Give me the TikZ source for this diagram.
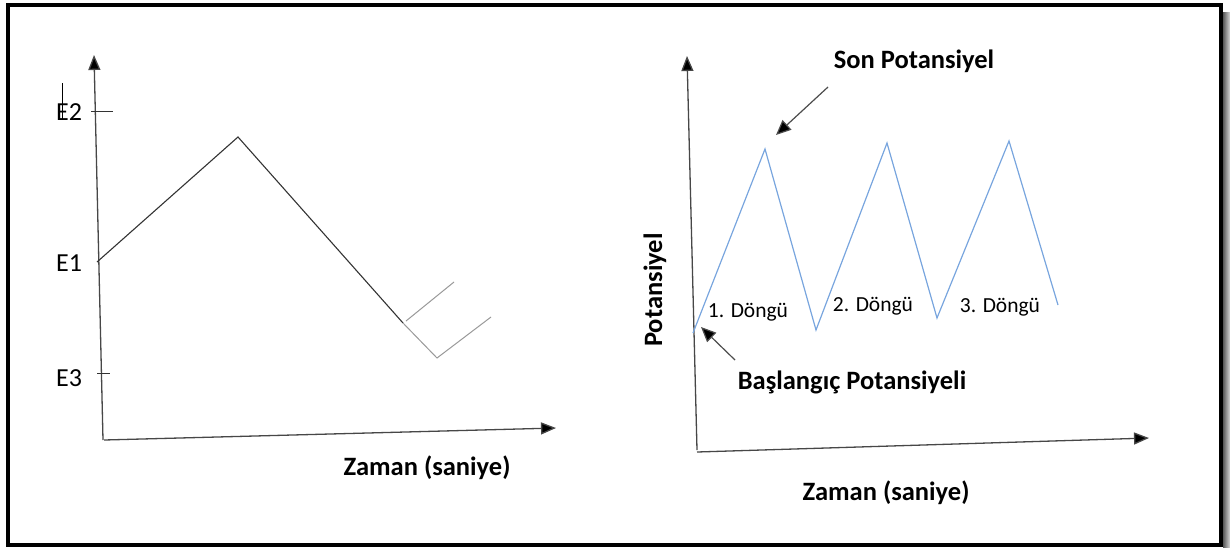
\documentclass[tikz,border=0pt]{standalone}
\usepackage{fontspec}
\setmainfont{Carlito}
\usetikzlibrary{arrows.meta}
\definecolor{cyclecol}{RGB}{120,165,222}
\begin{document}
\begin{tikzpicture}[x=1pt,y=-1pt,
  axis/.style={draw=black!72, line width=1.3pt, -{Triangle[length=15pt,width=12pt,fill=black]}},
  pointer/.style={draw=black!70, line width=1.2pt, -{Triangle[length=15pt,width=13pt,fill=black]}},
  tick/.style={draw=black!80, line width=1pt},
  sweep/.style={draw=black!80, line width=1.1pt},
  ghost/.style={draw=black!40, line width=1pt},
  cycle/.style={draw=cyclecol, line width=1.2pt},
  elabel/.style={font=\fontsize{26}{30}\selectfont, inner sep=0pt},
  title/.style={font=\fontsize{26.5}{30}\selectfont\bfseries, inner sep=0pt},
  loop/.style={font=\fontsize{21.5}{25}\selectfont, inner sep=0pt}]
\useasboundingbox (0,0) rectangle (1230,547);

% outer frame with its drop shadow
\shade[left color=black!65, right color=black!15] (1223,12) rectangle (1230,547);
\draw[line width=4pt] (8,5) rectangle (1221,545);

% ---------- left chart ----------
\coordinate (lo) at (103,440);
\coordinate (ly) at (94,55);
\coordinate (lx) at (556,428);
\draw[axis] (lo) -- (ly);
\draw[axis] (104,440) -- (lx);

\coordinate (t2a) at (91,111);  \coordinate (t2b) at (113,111);
\coordinate (t3a) at (97,373);  \coordinate (t3b) at (110,373);
\draw[tick] (t2a) -- (t2b);
\draw[tick] (t3a) -- (t3b);
\coordinate (cA) at (62,83); \coordinate (cB) at (62,120);
\draw[line width=0.9pt] (cA) -- (cB);

\node[elabel, anchor=west] (e2) at (56,112) {E2};
\node[elabel, anchor=west] (e1) at (56,263) {E1};
\node[elabel, anchor=west] (e3) at (56,378) {E3};

\coordinate (p0) at (97,262);
\coordinate (p1) at (238,137);
\coordinate (p2) at (403,323);
\coordinate (g1) at (406,321);
\coordinate (g2) at (454,282);
\coordinate (g3) at (437,358);
\coordinate (g4) at (491,317);
\draw[sweep] (p0) -- (p1) -- (p2);
\draw[ghost] (g1) -- (g2);
\draw[ghost] (p2) -- (g3) -- (g4);

\node[title] (lt) at (427,468) {Zaman (saniye)};

% ---------- right chart ----------
\coordinate (ro) at (697,450);
\coordinate (ry) at (687,56);
\coordinate (rx) at (1149,438);
\draw[axis] (ro) -- (ry);
\draw[axis] (697,452) -- (rx);

\coordinate (q0) at (693,333);
\coordinate (q1) at (765,149);
\coordinate (q2) at (816,330);
\coordinate (q3) at (887,143);
\coordinate (q4) at (937,318);
\coordinate (q5) at (1009,141);
\coordinate (q6) at (1058,305);
\draw[cycle] (q0) -- (q1) -- (q2) -- (q3) -- (q4) -- (q5) -- (q6);

\node[loop] (d1) at (748,312) {1. Döngü};
\node[loop] (d2) at (873,306) {2. Döngü};
\node[loop] (d3) at (1000,307) {3. Döngü};

\node[title] (son) at (914,61) {Son Potansiyel};
\coordinate (s1) at (828,87);
\coordinate (s2) at (776,135);
\draw[pointer] (s1) -- (s2);

\node[title] (bas) at (852,382) {Başlangıç Potansiyeli};
\coordinate (b1) at (735,360);
\coordinate (b2) at (701,327);
\draw[pointer] (b1) -- (b2);

\node[title, rotate=90] (pot) at (655,290) {Potansiyel};
\node[title] (rt) at (886,493) {Zaman (saniye)};
\end{tikzpicture}
\end{document}
